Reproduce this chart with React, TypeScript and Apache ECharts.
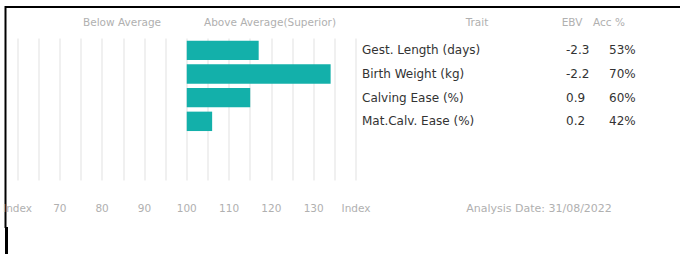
import React, { useEffect, useRef } from "react";
import * as echarts from "echarts";

const traits = ["Gest. Length (days)", "Birth Weight (kg)", "Calving Ease (%)", "Mat.Calv. Ease (%)"];
const indexValues = [117, 134, 115, 106];
const ebvValues = ["-2.3", "-2.2", "0.9", "0.2"];
const accValues = ["53%", "70%", "60%", "42%"];
const indexBase = 100;
const xRange = [60, 140];
const xEndLabel = "Index";
const headerBelow = "Below Average";
const headerAbove = "Above Average(Superior)";
const headerTrait = "Trait";
const headerEbv = "EBV";
const headerAcc = "Acc %";
const analysisDate = "Analysis Date: 31/08/2022";

const FONT = "'DejaVu Sans', sans-serif";

export default function App() {
  const ref = useRef<HTMLDivElement>(null);
  useEffect(() => {
    if (!ref.current) return;
    const chart = echarts.init(ref.current, null, { renderer: "svg" });
    const gray = "#b0b0b0";
    const teal = "#13b0aa";
    const hs = 10.5;
    chart.setOption({
      animation: false,
      grid: { left: 17.5, right: 324, top: 38.5, height: 142, containLabel: false },
      xAxis: {
        type: "value",
        min: xRange[0],
        max: xRange[1],
        interval: 5,
        axisLine: { show: false },
        axisTick: { show: false },
        splitLine: { show: true, lineStyle: { color: "#ebebeb", width: 1.5 } },
        axisLabel: {
          margin: 22,
          color: gray,
          fontSize: 10.5,
          fontFamily: FONT,
          showMinLabel: true,
          showMaxLabel: true,
          formatter: (v: number) => {
            if (v === xRange[0] || v === xRange[1]) return xEndLabel;
            return v % 10 === 0 ? String(v) : "";
          },
        },
      },
      yAxis: {
        type: "category",
        data: traits,
        inverse: true,
        min: 0,
        max: 5,
        position: "right",
        axisLine: { show: false },
        axisTick: { show: false },
        splitLine: { show: false },
        axisLabel: {
          margin: 6,
          align: "left",
          fontFamily: FONT,
          formatter: (v: string) => {
            const idx = traits.indexOf(v);
            if (idx < 0) return "";
            return `{a|${v}}{b|${ebvValues[idx]}}{c|${accValues[idx]}}`;
          },
          rich: {
            a: { width: 204, fontSize: 12, color: "#333", fontFamily: FONT },
            b: { width: 43, fontSize: 12, color: "#333", fontFamily: FONT },
            c: { fontSize: 12, color: "#333", fontFamily: FONT },
          },
        },
      },
      series: [
        {
          type: "custom",
          data: indexValues.map((v, i) => [v, i]),
          encode: { x: 0, y: 1 },
          renderItem: (params: any, api: any) => {
            const val = api.value(0);
            const cat = api.value(1);
            const start = api.coord([indexBase, cat]);
            const end = api.coord([val, cat]);
            const band = api.size([0, 1])[1];
            const h = band * 0.82;
            return {
              type: "rect",
              shape: { x: start[0], y: start[1] - h / 2, width: end[0] - start[0], height: h },
              style: { fill: teal },
            };
          },
        },
      ],
      graphic: [
        { type: "line", shape: { x1: 5, y1: 7, x2: 680, y2: 7 }, style: { stroke: "#000", lineWidth: 2 } },
        { type: "line", shape: { x1: 5.5, y1: 6, x2: 5.5, y2: 228 }, style: { stroke: "#000", lineWidth: 2 } },
        { type: "rect", shape: { x: 5, y: 227, width: 3, height: 27 }, style: { fill: "#000" } },
        { type: "text", x: 122, y: 22, style: { text: headerBelow, fill: gray, fontSize: hs, fontFamily: FONT, align: "center", verticalAlign: "middle" } },
        { type: "text", x: 270, y: 22, style: { text: headerAbove, fill: gray, fontSize: hs, fontFamily: FONT, align: "center", verticalAlign: "middle" } },
        { type: "text", x: 477, y: 22, style: { text: headerTrait, fill: gray, fontSize: hs, fontFamily: FONT, align: "center", verticalAlign: "middle" } },
        { type: "text", x: 572, y: 22, style: { text: headerEbv, fill: gray, fontSize: hs, fontFamily: FONT, align: "center", verticalAlign: "middle" } },
        { type: "text", x: 609, y: 22, style: { text: headerAcc, fill: gray, fontSize: hs, fontFamily: FONT, align: "center", verticalAlign: "middle" } },
        { type: "text", x: 539, y: 208, style: { text: analysisDate, fill: gray, fontSize: 11, fontFamily: FONT, align: "center", verticalAlign: "middle" } },
      ],
    });
    return () => chart.dispose();
  }, []);
  return (
    <div
      ref={ref}
      style={{ position: "absolute", left: 0, top: 0, width: 680, height: 254, background: "#fff" }}
    />
  );
}
